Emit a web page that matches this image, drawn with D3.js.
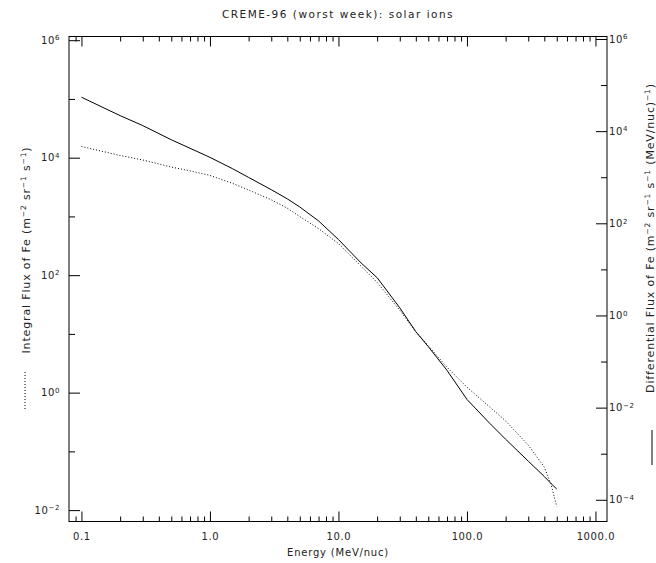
<!DOCTYPE html>
<html>
<head>
<meta charset="utf-8">
<script src="https://cdn.jsdelivr.net/npm/d3@7"></script>
<style>
  body { margin: 0; background: #fff; }
  text { font-family: "DejaVu Sans", sans-serif; fill: #222; }
</style>
</head>
<body>
<script>
// data
var energy = [0.1, 0.2, 0.3, 0.5, 0.7, 1, 1.5, 2, 3, 4, 5, 7, 10, 15, 20, 30, 40, 50, 70, 100, 150, 200, 300, 400, 450, 500];
var integralFlux = [1.55e4, 1.09e4, 9.14e3, 6.92e3, 5.98e3, 4.99e3, 3.65e3, 2.81e3, 1.92e3, 1.38e3, 995, 620, 345, 142, 75.4, 25.3, 10.9, 6.27, 2.70, 1.24, 0.573, 0.330, 0.128, 0.054, 0.028, 0.0115];
var differentialFlux = [5.45e4, 2.17e4, 1.32e4, 6.5e3, 4.25e3, 2.7e3, 1.53e3, 990, 537, 339, 226, 113, 44.5, 13.8, 6.6, 1.47, 0.445, 0.211, 0.0643, 0.0151, 0.0046, 0.00206, 6.9e-4, 3.2e-4, 2.27e-4, 1.71e-4];

var xMajor = [0.1, 1, 10, 100, 1000];
var xMinor = [0.09, 0.2, 0.3, 0.4, 0.5, 0.6, 0.7, 0.8, 0.9, 2, 3, 4, 5, 6, 7, 8, 9,
              20, 30, 40, 50, 60, 70, 80, 90, 200, 300, 400, 500, 600, 700, 800, 900];
var yLeftMajor = [1e-2, 1e0, 1e2, 1e4, 1e6];
var yLeftMinor = [1e-1, 1e1, 1e3, 1e5];
var yRightMajor = [1e-4, 1e-2, 1e0, 1e2, 1e4, 1e6];
var yRightMinor = [1e-3, 1e-1, 1e1, 1e3, 1e5];

var titleText = "CREME-96 (worst week): solar ions";
var xTitle = "Energy (MeV/nuc)";
var leftTitle = [["Integral Flux of Fe (m", 0], ["\u22122", 1], [" sr", 0], ["\u22121", 1], [" s", 0], ["\u22121", 1], [")", 0]];
var rightTitle = [["Differential Flux of Fe (m", 0], ["\u22122", 1], [" sr", 0], ["\u22121", 1], [" s", 0], ["\u22121", 1],
                  [" (MeV/nuc)", 0], ["\u22121", 1], [")", 0]];

// basic settings
var width = 656, height = 563;
var plotL = 69, plotR = 607, plotT = 36.5, plotB = 521.5;

var svg = d3.select("body").append("svg")
    .attr("width", width)
    .attr("height", height);

var x = d3.scaleLog().domain([0.08, 1230]).range([plotL, plotR]);
var yL = d3.scaleLog().domain([0.0064, 1.156e6]).range([plotB, plotT]);
var yR = d3.scaleLog().domain([3.38e-5, 1.132e6]).range([plotB, plotT]);

function styleAxis(g) {
    g.select(".domain").remove();
    g.selectAll(".tick line").attr("stroke", "#000");
    g.selectAll(".tick text").attr("font-size", "10px").attr("letter-spacing", "0.6px").attr("fill", "#222");
}

function powLabels(g) {
    g.selectAll(".tick text").each(function(d) {
        var e = Math.round(Math.log10(d));
        var t = d3.select(this).text("10");
        t.append("tspan").attr("dy", "-0.5em").attr("font-size", "7px")
            .text(e < 0 ? "\u2212" + (-e) : e);
    });
}

// bottom + top axes
svg.append("g").attr("transform", "translate(0," + plotB + ")")
    .call(d3.axisBottom(x).tickValues(xMajor).tickFormat(d3.format(".1f")).tickSizeInner(-10).tickSizeOuter(0).tickPadding(11))
    .call(styleAxis);
svg.append("g").attr("transform", "translate(0," + plotB + ")")
    .call(d3.axisBottom(x).tickValues(xMinor).tickFormat("").tickSizeInner(-5).tickSizeOuter(0))
    .call(styleAxis);
svg.append("g").attr("transform", "translate(0," + plotT + ")")
    .call(d3.axisTop(x).tickValues(xMajor).tickFormat("").tickSizeInner(-10).tickSizeOuter(0))
    .call(styleAxis);
svg.append("g").attr("transform", "translate(0," + plotT + ")")
    .call(d3.axisTop(x).tickValues(xMinor).tickFormat("").tickSizeInner(-5).tickSizeOuter(0))
    .call(styleAxis);

// left axis (integral)
svg.append("g").attr("transform", "translate(" + plotL + ",0)")
    .call(d3.axisLeft(yL).tickValues(yLeftMajor).tickSizeInner(-11).tickSizeOuter(0).tickPadding(9))
    .call(styleAxis).call(powLabels);
svg.append("g").attr("transform", "translate(" + plotL + ",0)")
    .call(d3.axisLeft(yL).tickValues(yLeftMinor).tickFormat("").tickSizeInner(-6).tickSizeOuter(0))
    .call(styleAxis);

// right axis (differential)
svg.append("g").attr("transform", "translate(" + plotR + ",0)")
    .call(d3.axisRight(yR).tickValues(yRightMajor).tickSizeInner(-11).tickSizeOuter(0).tickPadding(2))
    .call(styleAxis).call(powLabels);
svg.append("g").attr("transform", "translate(" + plotR + ",0)")
    .call(d3.axisRight(yR).tickValues(yRightMinor).tickFormat("").tickSizeInner(-6).tickSizeOuter(0))
    .call(styleAxis);

// frame
svg.append("rect")
    .attr("x", plotL).attr("y", plotT)
    .attr("width", plotR - plotL).attr("height", plotB - plotT)
    .attr("fill", "none").attr("stroke", "#000");

// curves
var intData = energy.map(function(e, i) { return {e: e, v: integralFlux[i]}; });
var difData = energy.map(function(e, i) { return {e: e, v: differentialFlux[i]}; });

svg.append("path").datum(intData)
    .attr("fill", "none").attr("stroke", "#000").attr("stroke-width", 1)
    .attr("stroke-dasharray", "1,2")
    .attr("d", d3.line().x(function(d) { return x(d.e); }).y(function(d) { return yL(d.v); }));

svg.append("path").datum(difData)
    .attr("fill", "none").attr("stroke", "#000").attr("stroke-width", 1)
    .attr("d", d3.line().x(function(d) { return x(d.e); }).y(function(d) { return yR(d.v); }));

// titles
svg.append("text")
    .attr("x", (plotL + plotR) / 2).attr("y", 18)
    .attr("text-anchor", "middle").attr("font-size", "10.5px").attr("letter-spacing", "1.5px")
    .text(titleText);

svg.append("text")
    .attr("x", (plotL + plotR) / 2).attr("y", 556)
    .attr("text-anchor", "middle").attr("font-size", "10px").attr("letter-spacing", "0.8px")
    .text(xTitle);

function richText(g, parts) {
    var t = g.append("text").attr("text-anchor", "middle").attr("font-size", "11px").attr("letter-spacing", "0.85px");
    var raised = false;
    parts.forEach(function(p) {
        var s = t.append("tspan").text(p[0]);
        if (p[1] && !raised) { s.attr("dy", "-4.5").attr("font-size", "7.5px"); raised = true; }
        else if (p[1]) { s.attr("font-size", "7.5px"); }
        else if (raised) { s.attr("dy", "4.5"); raised = false; }
    });
    return t;
}

richText(svg.append("g").attr("transform", "translate(30,250) rotate(-90)"), leftTitle);
richText(svg.append("g").attr("transform", "translate(654,238) rotate(-90)"), rightTitle);

// legend line samples next to the axis titles
svg.append("line").attr("x1", 25).attr("x2", 25).attr("y1", 372).attr("y2", 410)
    .attr("stroke", "#000").attr("stroke-dasharray", "1,2");
svg.append("line").attr("x1", 652).attr("x2", 652).attr("y1", 430).attr("y2", 465)
    .attr("stroke", "#000");
</script>
</body>
</html>
